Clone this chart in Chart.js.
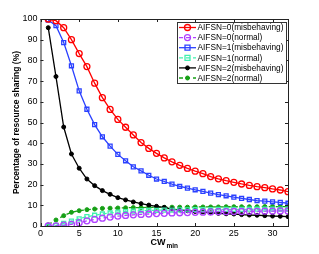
<!DOCTYPE html>
<html><head><meta charset="utf-8">
<script src="https://cdn.jsdelivr.net/npm/chart.js@4.4.0/dist/chart.umd.min.js"></script>
<style>html,body{margin:0;padding:0;background:#fff;}#wrap{width:319px;height:254px;}</style>
</head><body><div id="wrap"><canvas id="c" width="319" height="254"></canvas></div>
<script>
const cw = Array.from({length:32},(_,i)=>i+1);
const xTicks = [0,5,10,15,20,25,30];
const yTicks = [0,10,20,30,40,50,60,70,80,90,100];
const labels = ["AIFSN=0(misbehaving)","AIFSN=0(normal)","AIFSN=1(misbehaving)","AIFSN=1(normal)","AIFSN=2(misbehaving)","AIFSN=2(normal)"];
const a0mis = [100,99.2,95.8,90,83.3,77,69,62,56.3,51.5,47.7,44,40.3,37.5,35.1,32.9,31,29.3,27.8,26.5,25.3,23.9,22.8,21.9,21.1,20.3,19.6,19,18.5,17.9,17.4,16.6];
const a0nor = [0,0.1,0.4,0.8,1.6,2.5,3.2,3.8,4.3,4.8,5.1,5.4,5.6,5.8,6,6.1,6.3,6.4,6.5,6.6,6.7,6.8,6.9,6.9,7,7,7.1,7.1,7.2,7.2,7.3,7.3];
const a1mis = [99.5,96.8,88.6,77.4,65.3,56.4,49,43.1,38.6,34.6,31.5,28.6,26.6,24.5,22.7,21.5,20.2,19.2,18.3,17.5,16.7,15.9,15.2,14.6,13.9,13.3,12.8,12.3,12,11.7,11.4,11];
const a1nor = [0,0.3,1.3,2.4,3.5,4.5,5.2,5.8,6.3,6.7,7,7.2,7.4,7.5,7.6,7.7,7.7,7.8,7.8,7.9,7.9,7.9,8,8,8,8,8.1,8.1,8.1,8.1,8.2,8.2];
const a2mis = [95.8,72.2,47.8,34.8,27.9,22.7,19.5,17.1,15.3,13.7,12.6,11.6,10.8,10.1,9.5,9,8.2,7.8,7.4,7,6.8,6.4,6.1,5.9,5.8,5.5,5.3,5.2,5,4.8,4.7,4.5];
const a2nor = [0.6,2.9,5,6.6,7.4,7.9,8.2,8.5,8.6,8.7,8.8,8.9,8.9,9,9,9,9.1,9.1,9.1,9.2,9.2,9.2,9.2,9.3,9.3,9.3,9.3,9.3,9.4,9.4,9.4,9.4];

const FONT = "'Liberation Sans', Arial, sans-serif";
function ds(label, data, color, style, dashed, fill){
  return {label, data: data.map((v,i)=>({x:cw[i],y:v})), borderColor:color, backgroundColor:color,
    pointBackgroundColor: fill ? color : 'rgba(255,255,255,0)', pointBorderColor:color,
    pointStyle:style, pointRadius: style==='circle' ? (fill?2:3) : 2.8, pointBorderWidth: fill?1:1.3,
    borderWidth:1.3, borderDash: dashed?[4,3]:[], tension:0, fill:false};
}
const datasets = [
  ds(labels[0], a0mis, '#ff0000', 'circle', false, false),
  ds(labels[1], a0nor, '#b040ff', 'circle', true, false),
  ds(labels[2], a1mis, '#2a40ff', 'rect', false, false),
  ds(labels[3], a1nor, '#40f0b0', 'rect', true, false),
  ds(labels[4], a2mis, '#000000', 'circle', false, true),
  ds(labels[5], a2nor, '#16a016', 'circle', true, true),
];

const frame = {
  id:'frame',
  afterDraw(chart){
    const {ctx, chartArea:a, scales:{x,y}} = chart;
    ctx.save();
    ctx.strokeStyle='#222'; ctx.lineWidth=1;
    ctx.strokeRect(a.left+0.5, a.top+0.5, a.right-a.left, a.bottom-a.top);
    ctx.beginPath();
    xTicks.forEach(t=>{const px=Math.round(x.getPixelForValue(t))+0.5;
      ctx.moveTo(px,a.bottom); ctx.lineTo(px,a.bottom-3); ctx.moveTo(px,a.top); ctx.lineTo(px,a.top+3);});
    yTicks.forEach(t=>{const py=Math.round(y.getPixelForValue(t))+0.5;
      ctx.moveTo(a.left,py); ctx.lineTo(a.left+3,py); ctx.moveTo(a.right,py); ctx.lineTo(a.right-3,py);});
    ctx.stroke();
    // axis titles
    ctx.fillStyle='#000';
    ctx.font = "bold 9px "+FONT; ctx.textBaseline='alphabetic';
    const cx = (a.left+a.right)/2;
    ctx.textAlign='left';
    const w1 = ctx.measureText('CW').width;
    ctx.font = "bold 6.5px "+FONT;
    const w2 = ctx.measureText('min').width;
    const sx = cx - (w1+w2+1)/2;
    ctx.font = "bold 9px "+FONT; ctx.fillText('CW', sx, 245);
    ctx.font = "bold 6.5px "+FONT; ctx.fillText('min', sx+w1+1, 248);
    ctx.save();
    ctx.translate(19, (a.top+a.bottom)/2);
    ctx.rotate(-Math.PI/2);
    ctx.font = "bold 8.5px "+FONT; ctx.textAlign='center';
    ctx.fillText('Percentage of resource sharing (%)', 0, 0);
    ctx.restore();
    // legend
    const lx=177, ly=22, lw=109, lh=61;
    ctx.fillStyle='#fff'; ctx.fillRect(lx,ly,lw,lh);
    ctx.strokeStyle='#333'; ctx.strokeRect(lx+0.5,ly+0.5,lw,lh);
    chart.data.datasets.forEach((d,i)=>{
      const yy = ly+5.5+i*10.1;
      ctx.strokeStyle=d.borderColor; ctx.lineWidth=1.3;
      ctx.setLineDash(d.borderDash);
      ctx.beginPath(); ctx.moveTo(lx+2,yy); ctx.lineTo(lx+19,yy); ctx.stroke();
      ctx.setLineDash([]);
      ctx.fillStyle = d.pointBackgroundColor; ctx.lineWidth=d.pointBorderWidth; ctx.strokeStyle=d.pointBorderColor;
      const mx=lx+10.5;
      ctx.beginPath();
      if(d.pointStyle==='rect'){ctx.rect(mx-2.5,yy-2.5,5,5);} else {ctx.arc(mx,yy,d.pointRadius,0,Math.PI*2);}
      ctx.fill(); ctx.stroke();
      ctx.fillStyle='#000'; ctx.font="8.3px "+FONT; ctx.textAlign='left'; ctx.textBaseline='middle';
      ctx.fillText(d.label, lx+20.5, yy+0.5);
    });
    ctx.restore();
  }
};

new Chart(document.getElementById('c'), {
  type:'line',
  data:{datasets},
  options:{
    responsive:false, animation:false, devicePixelRatio:1,
    layout:{padding:{top:19,right:31,left:0,bottom:0}},
    plugins:{legend:{display:false}, tooltip:{enabled:false}},
    scales:{
      x:{type:'linear', min:0, max:32, grid:{display:false, drawTicks:false}, border:{display:false},
        afterFit(s){s.height=28;},
        afterBuildTicks(s){s.ticks = xTicks.map(v=>({value:v}));},
        ticks:{font:{family:FONT,size:9}, color:'#000', padding:2, maxRotation:0}},
      y:{type:'linear', min:0, max:100, grid:{display:false, drawTicks:false}, border:{display:false},
        afterFit(s){s.width=40.5;},
        afterBuildTicks(s){s.ticks = yTicks.map(v=>({value:v}));},
        ticks:{font:{family:FONT,size:9}, color:'#000', padding:3}}
    }
  },
  plugins:[frame]
});
</script></body></html>
